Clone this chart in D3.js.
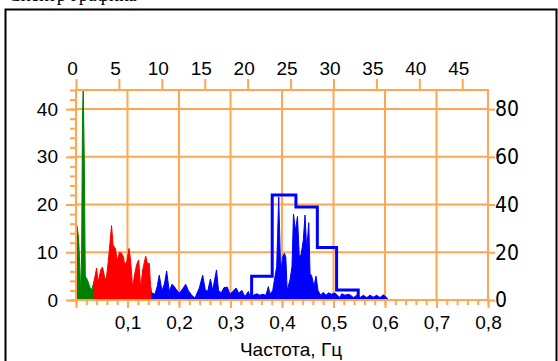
<!DOCTYPE html>
<html>
<head>
<meta charset="utf-8">
<script src="https://cdn.jsdelivr.net/npm/d3@7"></script>
<style>
  body { margin: 0; background: #fff; }
  svg { display: block; }
</style>
</head>
<body>
<div id="chart"></div>
<script>
// spectrum bands: [frequency Hz, amplitude] (left axis)
const greenBand = [
  [0, 16], [0.002, 15.5], [0.005, 13], [0.007, 8], [0.009, 1], [0.011, 10],
  [0.0126, 38], [0.014, 44.5], [0.016, 30], [0.018, 5], [0.020, 4.6],
  [0.023, 4], [0.027, 2.6], [0.031, 2.2], [0.034, 3.5]
];
const redBand = [
  [0.034, 3.5], [0.037, 5], [0.040, 6.7], [0.043, 3.7], [0.048, 6.3], [0.0515, 6.9],
  [0.056, 4.5], [0.059, 4.5], [0.0635, 9], [0.069, 15.6], [0.072, 11.5], [0.0767, 10.7],
  [0.080, 8.2], [0.0845, 10], [0.0883, 9.8], [0.092, 9], [0.094, 7.7], [0.098, 7.7],
  [0.103, 10.8], [0.106, 8.4], [0.110, 2.5], [0.114, 5.5], [0.118, 7.5], [0.1217, 8.4],
  [0.1256, 2.5], [0.1295, 6.3], [0.1353, 9.2], [0.139, 7.5], [0.1423, 7.7], [0.1447, 3],
  [0.147, 1.5]
];
const blueBand = [
  [0.147, 1.5], [0.1534, 1.2], [0.158, 3], [0.1617, 5.2], [0.167, 1.9], [0.172, 3.5],
  [0.176, 6.1], [0.181, 1.8], [0.1864, 3.3], [0.1909, 2.8], [0.1955, 2.1], [0.2006, 1.4],
  [0.2083, 2.5], [0.213, 3.3], [0.218, 2], [0.2247, 1], [0.231, 0.4], [0.2394, 2.5],
  [0.246, 5.2], [0.251, 2.1], [0.2557, 1.8], [0.261, 4.4], [0.2654, 2], [0.2728, 6.3],
  [0.2767, 2], [0.282, 1.5], [0.2874, 2.6], [0.2938, 2.7], [0.299, 1.2], [0.3043, 1.8],
  [0.311, 2.5], [0.316, 1.4], [0.322, 2], [0.328, 0.7], [0.3346, 1.8], [0.338, 0.8],
  [0.3443, 1], [0.351, 1.3], [0.357, 1], [0.3625, 1.2], [0.369, 1], [0.3734, 2.8],
  [0.3767, 1.2], [0.382, 2], [0.3864, 4.9], [0.3897, 7], [0.3936, 21.6], [0.3975, 5.6],
  [0.4014, 9], [0.4045, 9.8], [0.4074, 9], [0.410, 2], [0.4155, 4.2], [0.4194, 7],
  [0.4223, 18], [0.4262, 14.5], [0.430, 17.5], [0.4336, 9.1], [0.4373, 9.6], [0.4414, 12.6],
  [0.4447, 17.8], [0.448, 10.5], [0.452, 16.2], [0.4544, 5.6], [0.458, 4.9], [0.462, 2.8],
  [0.466, 5], [0.4699, 2], [0.4751, 1], [0.480, 1.6], [0.4854, 1], [0.4907, 1.5],
  [0.4965, 1.2], [0.5029, 1.5], [0.5074, 1], [0.5126, 0.5], [0.5159, 1.3], [0.5223, 1],
  [0.5287, 1.2], [0.5334, 1], [0.5386, 0.5], [0.545, 1], [0.5515, 0.5], [0.558, 1],
  [0.5645, 0.5], [0.5709, 1], [0.5773, 0.6], [0.584, 1], [0.590, 0.5], [0.5967, 1.1],
  [0.6033, 0.5], [0.6064, 0]
];

// histogram (right axis)
const binEdges = [0.341, 0.381, 0.427, 0.4686, 0.506, 0.548];
const binCounts = [10, 44, 39, 22, 4.2];

const bottomTicks = [0.1, 0.2, 0.3, 0.4, 0.5, 0.6, 0.7, 0.8];
const topTicks = [0, 5, 10, 15, 20, 25, 30, 35, 40, 45];
const leftTicks = [0, 10, 20, 30, 40];
const rightTicks = [0, 20, 40, 60, 80];

const W = 558, H = 361;
const orange = "#ffa64f";
const sans = "Liberation Sans, Arial, sans-serif";

const svg = d3.select("#chart").append("svg")
  .attr("width", W).attr("height", H);

// outer frame + title, cut by the top edge as in the source
svg.append("text")
  .attr("x", 8).attr("y", 1)
  .attr("font-family", "Liberation Serif, serif")
  .attr("font-size", 19)
  .text("Спектр графика");
svg.append("rect")
  .attr("x", 5.5).attr("y", 9.5).attr("width", 551).attr("height", 380)
  .attr("fill", "none").attr("stroke", "#000").attr("stroke-width", 2);

const x = d3.scaleLinear([0, 0.8], [76, 488]);
const xTop = d3.scaleLinear([0, 48], [76, 488]);
const yL = d3.scaleLinear([0, 44], [300, 90]);
const yR = d3.scaleLinear([0, 88], [300, 90]);

svg.append("defs").append("clipPath").attr("id", "plot")
  .append("rect").attr("x", 76).attr("y", 90).attr("width", 412).attr("height", 210);

// grid
const grid = svg.append("g").attr("stroke", orange).attr("stroke-width", 2);
grid.selectAll(".gv").data(bottomTicks.slice(0, -1)).join("line")
  .attr("x1", d => x(d)).attr("x2", d => x(d)).attr("y1", 90).attr("y2", 300);
grid.selectAll(".gh").data(leftTicks.slice(1)).join("line")
  .attr("y1", d => yL(d)).attr("y2", d => yL(d)).attr("x1", 76).attr("x2", 488);

// axes
function styleAxis(g) {
  g.select(".domain").remove();
  g.selectAll(".tick line").attr("stroke", orange).attr("stroke-width", 2);
  g.selectAll(".tick text").attr("fill", "#000");
}
const minorX = d3.range(0, 0.801, 0.02);
const minorY = d3.range(0, 44.01, 2);

svg.append("g").attr("transform", "translate(0,300)")
  .call(d3.axisBottom(x).tickValues(minorX).tickSize(5).tickFormat(""))
  .call(styleAxis);
svg.append("g").attr("transform", "translate(0,300)")
  .call(d3.axisBottom(x).tickValues([0].concat(bottomTicks)).tickSize(8).tickPadding(8)
    .tickFormat(d => d === 0 ? "" : d3.format(".1f")(d).replace(".", ",")))
  .call(styleAxis)
  .attr("font-family", sans).attr("font-size", 19);

svg.append("g").attr("transform", "translate(76,0)")
  .call(d3.axisLeft(yL).tickValues(minorY).tickSize(6).tickFormat(""))
  .call(styleAxis);
svg.append("g").attr("transform", "translate(76,0)")
  .call(d3.axisLeft(yL).tickValues(leftTicks).tickSize(10).tickPadding(8))
  .call(styleAxis)
  .attr("font-family", sans).attr("font-size", 19);

svg.append("g").attr("transform", "translate(0,90)")
  .call(d3.axisTop(xTop).tickValues(topTicks).tickSize(11).tickPadding(4))
  .call(styleAxis)
  .attr("font-family", sans).attr("font-size", 19)
  .selectAll(".tick text").attr("dx", -4);

svg.append("g").attr("transform", "translate(488,0)")
  .call(d3.axisRight(yR).tickValues(rightTicks).tickSize(7).tickPadding(0))
  .call(styleAxis)
  .attr("font-family", "DejaVu Sans Condensed, DejaVu Sans, sans-serif").attr("font-size", 21);

// spectrum areas
const area = d3.area().x(d => x(d[0])).y0(yL(0)).y1(d => yL(d[1]));
const marks = svg.append("g").attr("clip-path", "url(#plot)");
[[greenBand, "#008000"], [redBand, "#ff0000"], [blueBand, "#0000ff"]].forEach(([band, c]) => {
  marks.append("path").datum(band).attr("d", area).attr("fill", c)
    .attr("stroke", c).attr("stroke-width", 1);
});

// histogram step line
const steps = [[binEdges[0], 0]];
binCounts.forEach((v, i) => {
  steps.push([binEdges[i], v], [binEdges[i + 1], v]);
});
steps.push([binEdges[binEdges.length - 1], 0]);
marks.append("path").datum(steps)
  .attr("d", d3.line().x(d => x(d[0])).y(d => yR(d[1])))
  .attr("fill", "none").attr("stroke", "#0000ff").attr("stroke-width", 3);

// plot border
svg.append("rect").attr("x", 76).attr("y", 90).attr("width", 412).attr("height", 210)
  .attr("fill", "none").attr("stroke", orange).attr("stroke-width", 2);

svg.append("text")
  .attr("x", 291).attr("y", 356).attr("text-anchor", "middle")
  .attr("font-family", sans).attr("font-size", 19)
  .text("Частота, Гц");
</script>
</body>
</html>
